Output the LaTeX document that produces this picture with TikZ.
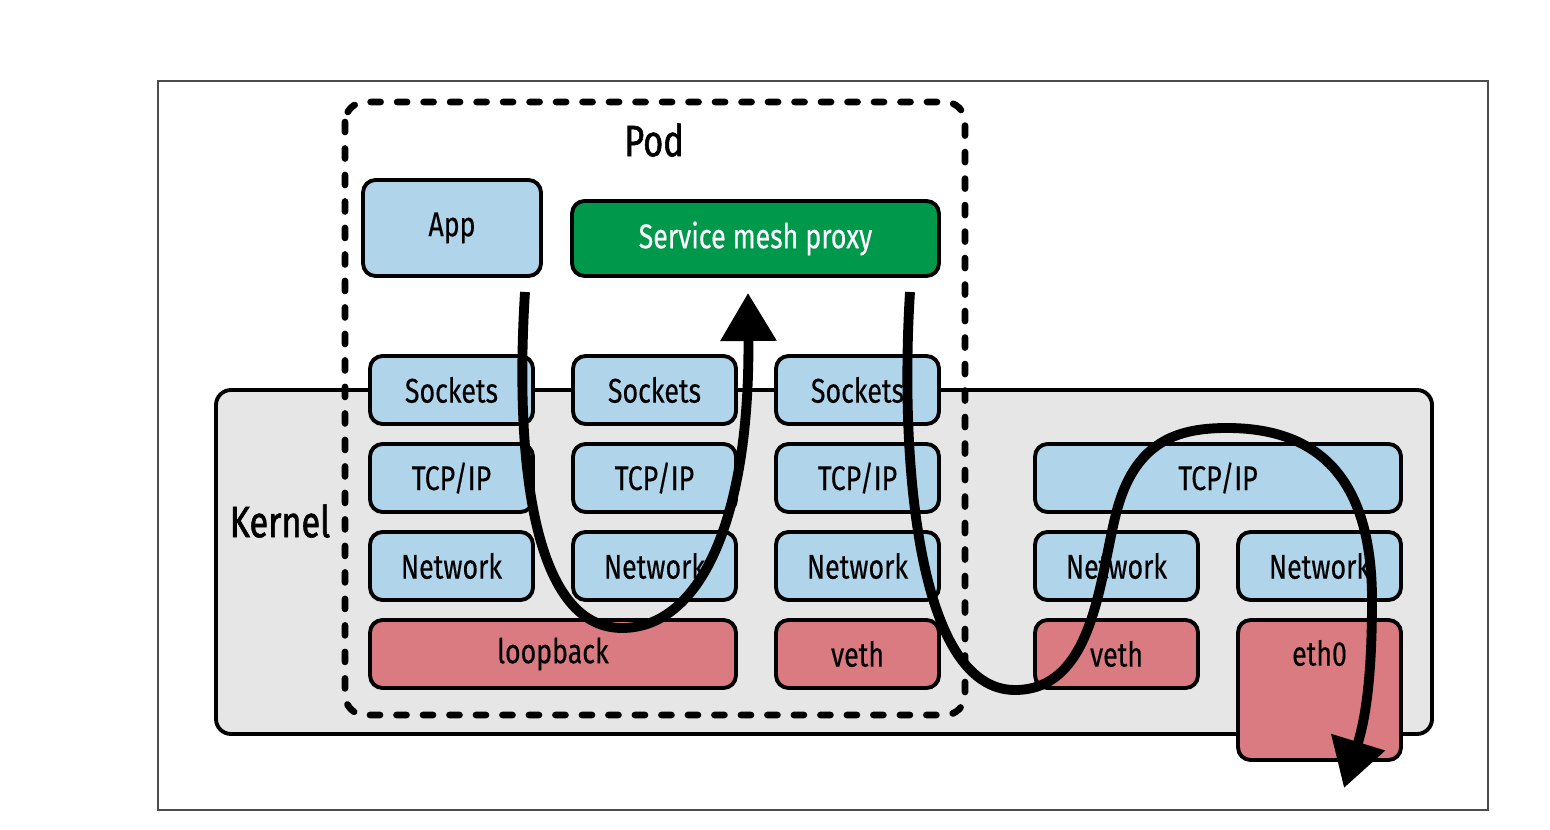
\documentclass[tikz,border=0pt]{standalone}
\usepackage{fontspec}
\setmainfont{Fira Sans}[FakeStretch=0.78, FakeBold=0.3]
\newfontfamily\headfont{Fira Sans}[FakeStretch=0.78, FakeBold=1.3]
\usetikzlibrary{arrows.meta}
\definecolor{layerblue}{HTML}{B0D4EA}
\definecolor{devred}{HTML}{D97B80}
\definecolor{proxygreen}{HTML}{00994C}
\definecolor{kernelgray}{HTML}{E6E6E6}
\tikzset{
  layer/.style={draw=black, line width=2.2pt, rounded corners=0.25cm, fill=layerblue,
    minimum width=3.26cm, minimum height=1.36cm, inner sep=0pt,
    font=\fontsize{19.5}{22}\selectfont},
  dev/.style={layer, fill=devred},
  heading/.style={font=\headfont\fontsize{25}{28}\selectfont},
  flow/.style={line width=5.6pt, -{Triangle[length=0.96cm,width=1.08cm]}},
}

\begin{document}
\begin{tikzpicture}[x=0.02cm,y=-0.02cm]
  \useasboundingbox (0,0) rectangle (1550,830);
  \draw[black!70, line width=0.8pt] (158,81) rectangle (1488,810);
  \draw[line width=2.2pt, rounded corners=0.3cm, fill=kernelgray] (216,390) rectangle (1432,734);
  \node[heading] (kernel) at (280,521) {Kernel};

  \node[layer, minimum width=3.56cm, minimum height=1.92cm] (app) at (452,228) {App};
  \node[layer, fill=proxygreen, text=white, minimum width=7.34cm, minimum height=1.5cm] (proxy) at (755.5,238.5) {Service mesh proxy};

  \node[layer] (sock1) at (451.5,390) {Sockets};
  \node[layer] (sock2) at (654.5,390) {Sockets};
  \node[layer] (sock3) at (857.5,390) {Sockets};
  \node[layer] (tcp1) at (451.5,478) {TCP/IP};
  \node[layer] (tcp2) at (654.5,478) {TCP/IP};
  \node[layer] (tcp3) at (857.5,478) {TCP/IP};
  \node[layer] (net1) at (451.5,566) {Network};
  \node[layer] (net2) at (654.5,566) {Network};
  \node[layer] (net3) at (857.5,566) {Network};
  \node[dev, minimum width=7.32cm] (loop) at (553,654) {loopback};
  \node[dev] (veth1) at (857.5,654) {veth};

  \node[layer, minimum width=7.32cm] (tcp4) at (1218,478) {TCP/IP};
  \node[layer] (net4) at (1116.5,566) {Network};
  \node[layer] (net5) at (1319.5,566) {Network};
  \node[dev] (veth2) at (1116.5,654) {veth};
  \node[dev, minimum height=2.8cm] (eth0) at (1319.5,690) {};
  \node[font=\fontsize{19.5}{22}\selectfont] (eth0text) at (1319.5,653) {eth0};

  \draw[line width=3.8pt, line cap=round, dash pattern=on 0.2cm off 0.33cm, rounded corners=0.4cm] (345,102) rectangle (965,715);
  \node[heading] (pod) at (654,140) {Pod};

  \coordinate (a1s) at (525,292);
  \coordinate (a1e) at (748,293);
  \coordinate (a2s) at (910,292);
  \coordinate (a2e) at (1344,788);
  \draw[flow] (a1s) .. controls (515,450) and (530,628) .. (622,628)
    .. controls (700,628) and (750,520) .. (a1e);
  \draw[flow] (a2s) .. controls (900,450) and (915,690) .. (1015,690)
    .. controls (1100,690) and (1100,560) .. (1120,500)
    .. controls (1140,440) and (1180,428) .. (1227,428)
    .. controls (1320,428) and (1372,480) .. (1372,600)
    .. controls (1372,680) and (1365,720) .. (a2e);
\end{tikzpicture}
\end{document}
